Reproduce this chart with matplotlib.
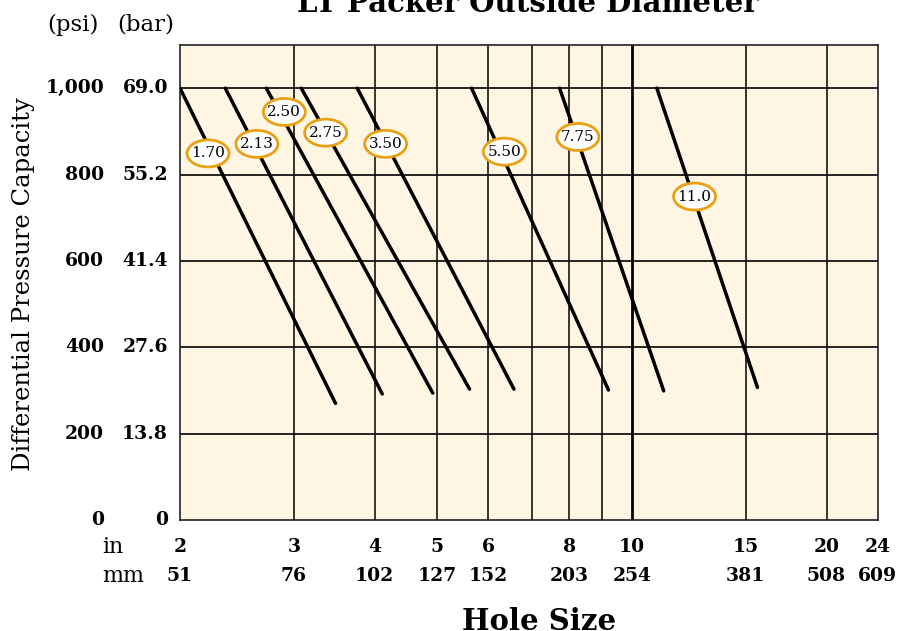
import matplotlib
matplotlib.use("Agg")
import matplotlib.pyplot as plt
from matplotlib.patches import Ellipse
from matplotlib.transforms import ScaledTranslation
import numpy as np

# ---- data ----
od_labels = ["1.70", "2.13", "2.50", "2.75", "3.50", "5.50", "7.75", "11.0"]
hole_top = [2.0, 2.35, 2.72, 3.08, 3.76, 5.65, 7.73, 10.93]
psi_top = [1000, 1000, 1000, 1000, 1000, 1000, 1000, 1000]
hole_end = [3.48, 4.11, 4.92, 5.61, 6.57, 9.2, 11.2, 15.64]
psi_end = [270, 292, 294, 303, 303, 301, 299, 307]

in_ticks = [2, 3, 4, 5, 6, 8, 10, 15, 20, 24]
in_tick_labels = ["2", "3", "4", "5", "6", "8", "10", "15", "20", "24"]
mm_tick_labels = ["51", "76", "102", "127", "152", "203", "254", "381", "508", "609"]
vgrid = [3, 4, 5, 6, 7, 8, 9, 10, 15, 20]
psi_ticks = [0, 200, 400, 600, 800, 1000]
psi_tick_labels = ["0", "200", "400", "600", "800", "1,000"]
bar_tick_labels = ["0", "13.8", "27.6", "41.4", "55.2", "69.0"]

# label positions (layout)
lab_x = [2.21, 2.63, 2.90, 3.36, 4.16, 6.35, 8.25, 12.5]
lab_y = [849, 871, 945, 897, 871, 853, 887, 749]

FONT = "DejaVu Serif"
plt.rcParams['font.family'] = [FONT]
W, H = 901, 631
fig = plt.figure(figsize=(W / 100, H / 100), dpi=100)
L, R, T, B = 180, 877.7, 45, 520
ax = fig.add_axes([L / W, 1 - B / H, (R - L) / W, (B - T) / H])
ax.set_xscale('log')
ax.set_xlim(2, 24)
ax.set_ylim(0, 1100)
ax.set_facecolor('#FEF5E3')
ax.set_xticks([]); ax.set_yticks([])
ax.xaxis.set_minor_locator(matplotlib.ticker.NullLocator())
for s in ax.spines.values():
    s.set_linewidth(1.2)
    s.set_color('#222222')

for v in vgrid:
    ax.axvline(v, color='black', lw=2.0 if v == 10 else 1.1, zorder=1)
for h in psi_ticks[1:]:
    ax.axhline(h, color='black', lw=1.2, zorder=1)

for x0, y0, x1, y1 in zip(hole_top, psi_top, hole_end, psi_end):
    ax.plot([x0, x1], [y0, y1], color='black', lw=2.5, solid_capstyle='round', zorder=3)

orange = '#E9A012'
for t, x, y in zip(od_labels, lab_x, lab_y):
    tr = fig.dpi_scale_trans + ScaledTranslation(x, y, ax.transData)
    ax.add_patch(Ellipse((0, 0), 0.42, 0.27, transform=tr, fc='white', ec=orange,
                         lw=2.0, zorder=4, clip_on=False))
    ax.text(x, y, t, ha='center', va='center', fontsize=11, zorder=5)

# x tick labels
xt = ax.get_xaxis_transform()
for x, a, b in zip(in_ticks, in_tick_labels, mm_tick_labels):
    ax.text(x, (B - 546.7) / (B - T), a, transform=xt, ha='center', va='center',
            fontsize=13.5, fontweight='bold', clip_on=False)
    ax.text(x, (B - 576) / (B - T), b, transform=xt, ha='center', va='center',
            fontsize=13.5, fontweight='bold', clip_on=False)
fig.text(113 / W, 1 - 546.7 / H, "in", ha='center', va='center', fontsize=16)
fig.text(123 / W, 1 - 576 / H, "mm", ha='center', va='center', fontsize=16)

# y tick labels
yt = ax.get_yaxis_transform()
for y, a, b in zip(psi_ticks, psi_tick_labels, bar_tick_labels):
    ax.text((104 - L) / (R - L), y, a, transform=yt, ha='right', va='center',
            fontsize=13.5, fontweight='bold', clip_on=False)
    ax.text((168 - L) / (R - L), y, b, transform=yt, ha='right', va='center',
            fontsize=13.5, fontweight='bold', clip_on=False)
fig.text(73 / W, 1 - 25 / H, "(psi)", ha='center', va='center', fontsize=16.5)
fig.text(146 / W, 1 - 25 / H, "(bar)", ha='center', va='center', fontsize=16.5)

fig.text(24 / W, 1 - 284 / H, "Differential Pressure Capacity", rotation=90,
         ha='center', va='center', fontsize=17.5)
fig.text(528 / W, 1 - 12 / H, "LT Packer Outside Diameter", ha='center', va='baseline',
         fontsize=21, fontweight='bold')
fig.text(538.7 / W, 1 - 630 / H, "Hole Size", ha='center', va='baseline',
         fontsize=21, fontweight='bold')

fig.savefig("out.png", dpi=100)
